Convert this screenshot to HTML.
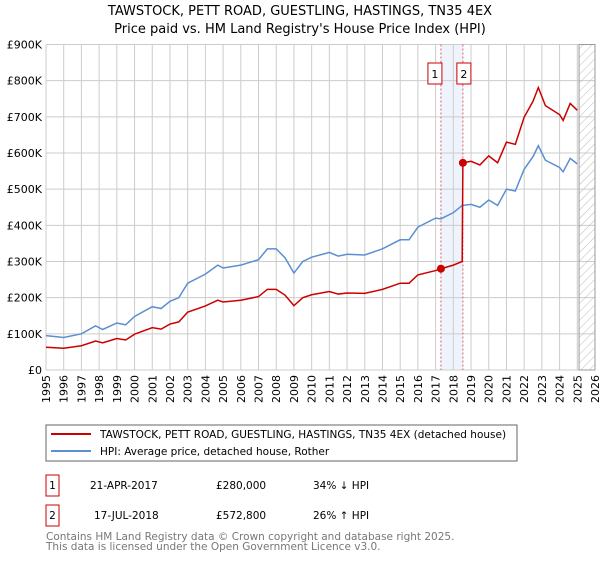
<!DOCTYPE html>
<html><head><meta charset="utf-8"><style>
body{margin:0;background:#fff;font-family:"Liberation Sans","DejaVu Sans",sans-serif;}
svg text{font-family:"DejaVu Sans","Liberation Sans",sans-serif;}
</style></head><body>
<svg width="600" height="560" viewBox="0 0 600 560">
<defs><pattern id="hatch" width="6" height="6" patternUnits="userSpaceOnUse" patternTransform="rotate(45)"><line x1="0" y1="0" x2="0" y2="6" stroke="#bbb" stroke-width="1"/></pattern></defs>
<text x="300" y="15" text-anchor="middle" font-size="13">TAWSTOCK, PETT ROAD, GUESTLING, HASTINGS, TN35 4EX</text>
<text x="300" y="33" text-anchor="middle" font-size="13">Price paid vs. HM Land Registry's House Price Index (HPI)</text>
<g id="grid"></g>
<g id="marks"></g>
<g id="axes"></g>
<rect x="46" y="425" width="471" height="36" fill="none" stroke="#666"/>
<line x1="51" y1="434" x2="91" y2="434" stroke="#cc0000" stroke-width="2"/>
<text x="100" y="438" font-size="10.5">TAWSTOCK, PETT ROAD, GUESTLING, HASTINGS, TN35 4EX (detached house)</text>
<line x1="51" y1="451" x2="91" y2="451" stroke="#5b8fd1" stroke-width="2"/>
<text x="100" y="455" font-size="10.5">HPI: Average price, detached house, Rother</text>
<g font-size="10.5">
<rect x="46" y="475" width="13" height="21" fill="none" stroke="#cc0000"/>
<text x="52.5" y="489" text-anchor="middle">1</text>
<text x="90" y="489">21-APR-2017</text><text x="216" y="489">£280,000</text><text x="313" y="489">34% ↓ HPI</text>
<rect x="46" y="505" width="13" height="21" fill="none" stroke="#cc0000"/>
<text x="52.5" y="519" text-anchor="middle">2</text>
<text x="94" y="519">17-JUL-2018</text><text x="216" y="519">£572,800</text><text x="313" y="519">26% ↑ HPI</text>
</g>
<text x="46" y="540" font-size="10.5" fill="#777">Contains HM Land Registry data © Crown copyright and database right 2025.</text>
<text x="46" y="550" font-size="10.5" fill="#777">This data is licensed under the Open Government Licence v3.0.</text>
</svg>
<script>
const hpiYears=[1995,1996,1997,1997.8,1998.2,1999,1999.5,2000,2001,2001.5,2002,2002.5,2003,2004,2004.7,2005,2006,2007,2007.5,2008,2008.5,2009,2009.5,2010,2011,2011.5,2012,2013,2014,2015,2015.5,2016,2017,2017.3,2018,2018.5,2019,2019.5,2020,2020.5,2021,2021.5,2022,2022.5,2022.8,2023.2,2024,2024.2,2024.6,2025];
const hpiValues=[95,90,100,122,112,130,125,148,175,170,190,200,240,265,290,282,290,305,335,335,310,268,300,312,325,315,320,318,335,360,360,395,420,418,435,455,458,450,470,455,500,495,555,590,620,580,560,548,585,570];
const redYears=[1995,1996,1997,1997.8,1998.2,1999,1999.5,2000,2001,2001.5,2002,2002.5,2003,2004,2004.7,2005,2006,2007,2007.5,2008,2008.5,2009,2009.5,2010,2011,2011.5,2012,2013,2014,2015,2015.5,2016,2017,2017.3,2018,2018.5,2018.54,2019,2019.5,2020,2020.5,2021,2021.5,2022,2022.5,2022.8,2023.2,2024,2024.2,2024.6,2025];
const redValues=[63,60,67,80,75,87,83,99,117,113,127,133,160,177,193,188,193,203,223,223,207,178,200,208,217,210,213,212,223,240,240,263,275,280,290,300,572.8,577,567,592,573,630,624,699,743,781,731,706,690,737,718];
const saleYears=[2017.3,2018.54];
const saleValues=[280,572.8];
const saleLabels=["1","2"];
const yTicks=[0,100,200,300,400,500,600,700,800,900];
const yTickLabels=["£0","£100K","£200K","£300K","£400K","£500K","£600K","£700K","£800K","£900K"];
const xTicks=[1995,1996,1997,1998,1999,2000,2001,2002,2003,2004,2005,2006,2007,2008,2009,2010,2011,2012,2013,2014,2015,2016,2017,2018,2019,2020,2021,2022,2023,2024,2025,2026];
const X0=46,X1=595,Y0=370,Y1=44.5;
const xs=y=>X0+(y-1995)/(2026-1995)*(X1-X0);
const ys=v=>Y0-v/900*(Y0-Y1);
const NS="http://www.w3.org/2000/svg";
function mk(parent,tag,attrs){const e=document.createElementNS(NS,tag);for(const k in attrs)e.setAttribute(k,attrs[k]);document.getElementById(parent).appendChild(e);return e;}
let e;
e=mk('grid','rect',{x:xs(2017.3),y:Y1,width:xs(2018.54)-xs(2017.3),height:Y0-Y1,fill:'#eef3fc'});


xTicks.forEach(t=>{e=mk('grid','line',{x1:xs(t),x2:xs(t),y1:Y1,y2:Y0,stroke:'#ccc'});

});
yTicks.forEach(t=>{e=mk('grid','line',{x1:X0,x2:X1,y1:ys(t),y2:ys(t),stroke:'#ccc'});

});
e=mk('grid','rect',{x:xs(2025.1),y:Y1,width:X1-xs(2025.1),height:Y0-Y1,fill:'url(#hatch)',stroke:'#999'});


saleYears.forEach((s,i)=>{e=mk('grid','line',{x1:xs(s),x2:xs(s),y1:Y1,y2:Y0,stroke:'#e06060','stroke-dasharray':'2,2'});

});
e=mk('marks','polyline',{points:hpiYears.map((y,i)=>xs(y)+','+ys(hpiValues[i])).join(' '),fill:'none',stroke:'#5b8fd1','stroke-width':1.5});


e=mk('marks','polyline',{points:redYears.map((y,i)=>xs(y)+','+ys(redValues[i])).join(' '),fill:'none',stroke:'#cc0000','stroke-width':1.5});


saleYears.forEach((s,i)=>{e=mk('marks','circle',{cx:xs(s),cy:ys(saleValues[i]),r:4,fill:'#cc0000'});


const bx=xs(s)-(i==0?6:-1)-7;
e=mk('marks','rect',{x:bx,y:63,width:14,height:21,fill:'#fff',stroke:'#cc0000'});


e=mk('marks','text',{x:bx+7,y:78,'text-anchor':'middle','font-size':11});e.textContent=saleLabels[i];

});
yTicks.forEach((t,i)=>{e=mk('axes','text',{x:X0-4,y:ys(t)+4,'text-anchor':'end','font-size':11});e.textContent=yTickLabels[i];

});
xTicks.forEach(t=>{e=mk('axes','text',{x:0,y:0,'text-anchor':'end','font-size':11,transform:'translate('+(xs(t)+4)+','+(Y0+5)+') rotate(-90)'});e.textContent=t;

});
</script>
</body></html>
